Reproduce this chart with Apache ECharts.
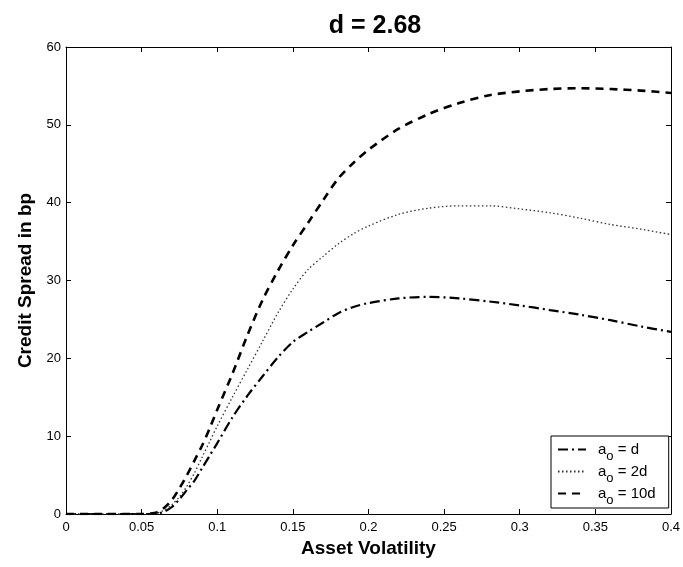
<!DOCTYPE html>
<html>
<head>
<meta charset="utf-8">
<script src="https://cdn.jsdelivr.net/npm/echarts@6/dist/echarts.min.js"></script>
<style>
html,body{margin:0;padding:0;background:#fff;}
#c{width:683px;height:567px;}
</style>
</head>
<body>
<div id="c"></div>
<script>
const titleText = 'd = 2.68';
const xName = 'Asset Volatility';
const yName = 'Credit Spread in bp';
const xTicks = [0, 0.05, 0.1, 0.15, 0.2, 0.25, 0.3, 0.35, 0.4];
const yTicks = [0, 10, 20, 30, 40, 50, 60];
const vol = [0, 0.02, 0.04, 0.05, 0.055, 0.06, 0.065, 0.07, 0.075, 0.08, 0.085, 0.09, 0.095, 0.1, 0.11, 0.12, 0.13, 0.14, 0.15, 0.16, 0.17, 0.18, 0.19, 0.2, 0.22, 0.24, 0.26, 0.28, 0.3, 0.32, 0.34, 0.36, 0.38, 0.4];
const spreadD = [0, 0, 0, 0, 0, 0.05, 0.3, 0.9, 1.9, 3.1, 4.3, 5.9, 7.5, 9.1, 12.4, 15.2, 17.7, 20.1, 22.1, 23.4, 24.6, 25.8, 26.6, 27.1, 27.7, 27.9, 27.7, 27.3, 26.8, 26.2, 25.6, 24.9, 24.1, 23.4];
const spread2D = [0, 0, 0, 0, 0, 0.1, 0.5, 1.2, 2.2, 3.6, 5.3, 7.3, 9.3, 11.3, 15.0, 18.6, 22.2, 25.8, 28.9, 31.4, 33.1, 34.7, 36.0, 37.0, 38.5, 39.3, 39.6, 39.6, 39.2, 38.7, 38.0, 37.2, 36.6, 35.9];
const spread10D = [0, 0, 0, 0, 0.05, 0.2, 0.8, 1.8, 3.3, 5.0, 6.9, 8.8, 11.0, 13.4, 18.0, 23.0, 27.5, 31.2, 34.5, 37.4, 40.3, 43.1, 45.1, 46.8, 49.5, 51.4, 52.8, 53.8, 54.3, 54.6, 54.7, 54.6, 54.4, 54.1];
const seriesNames = ['a{s|o} = d', 'a{s|o} = 2d', 'a{s|o} = 10d'];

const pairs = ys => vol.map((x, i) => [x, ys[i]]);
const FONT = 'Liberation Sans, Arial, sans-serif';
const chart = echarts.init(document.getElementById('c'));

const baseX = {
  type: 'value', min: xTicks[0], max: xTicks[xTicks.length - 1], interval: 0.05,
  axisLine: { show: true, onZero: false, lineStyle: { color: '#000', width: 1 } },
  axisTick: { show: true, inside: true, length: 5, lineStyle: { color: '#000' } },
  splitLine: { show: false }
};
const baseY = {
  type: 'value', min: yTicks[0], max: yTicks[yTicks.length - 1], interval: 10,
  axisLine: { show: true, onZero: false, lineStyle: { color: '#000', width: 1 } },
  axisTick: { show: true, inside: true, length: 5, lineStyle: { color: '#000' } },
  splitLine: { show: false }
};

chart.setOption({
  animation: false,
  backgroundColor: '#fff',
  title: {
    text: titleText, left: 370, top: 9, textAlign: 'center',
    textStyle: { fontFamily: FONT, fontSize: 25, fontWeight: 'bold', color: '#000' }
  },
  grid: { left: 66, right: 8, top: 47, bottom: 53, containLabel: false },
  xAxis: [
    Object.assign({}, baseX, {
      position: 'bottom',
      name: xName, nameLocation: 'middle', nameGap: 24,
      nameTextStyle: { fontFamily: FONT, fontSize: 19, fontWeight: 'bold', color: '#000' },
      axisLabel: { show: true, margin: 7, fontFamily: FONT, fontSize: 13, color: '#000',
        formatter: v => String(Math.round(v * 100) / 100) }
    }),
    Object.assign({}, baseX, { position: 'top', axisLabel: { show: false } })
  ],
  yAxis: [
    Object.assign({}, baseY, {
      position: 'left',
      name: yName, nameLocation: 'middle', nameGap: 31,
      nameTextStyle: { fontFamily: FONT, fontSize: 19, fontWeight: 'bold', color: '#000' },
      axisLabel: { show: true, margin: 5, fontFamily: FONT, fontSize: 13, color: '#000' }
    }),
    Object.assign({}, baseY, { position: 'right', axisLabel: { show: false } })
  ],
  legend: {
    left: 551, top: 436, orient: 'vertical',
    padding: [6, 13, 1, 6],
    itemGap: 1, itemWidth: 28, itemHeight: 14,
    backgroundColor: '#fff', borderColor: '#000', borderWidth: 1,
    itemStyle: { opacity: 0 },
    data: seriesNames,
    formatter: n => n,
    textStyle: {
      fontFamily: FONT, fontSize: 15, color: '#000', padding: [0, 0, 0, 7],
      rich: { s: { fontFamily: FONT, fontSize: 13, color: '#000', verticalAlign: 'bottom', padding: [14, 0, 0, 0] } }
    }
  },
  series: [
    {
      name: seriesNames[0], type: 'line', xAxisIndex: 0, yAxisIndex: 0,
      data: pairs(spreadD), symbol: 'none', smooth: 0.3,
      itemStyle: { color: '#000' },
      lineStyle: { color: '#000', width: 2.2, type: [10, 4, 2, 4] }
    },
    {
      name: seriesNames[1], type: 'line', xAxisIndex: 0, yAxisIndex: 0,
      data: pairs(spread2D), symbol: 'none', smooth: 0.3,
      itemStyle: { color: '#333' },
      lineStyle: { color: '#333', width: 1.3, type: [1.5, 2.5] }
    },
    {
      name: seriesNames[2], type: 'line', xAxisIndex: 0, yAxisIndex: 0,
      data: pairs(spread10D), symbol: 'none', smooth: 0.3,
      itemStyle: { color: '#000' },
      lineStyle: { color: '#000', width: 2.6, type: [8, 6] }
    }
  ]
});
</script>
</body>
</html>
